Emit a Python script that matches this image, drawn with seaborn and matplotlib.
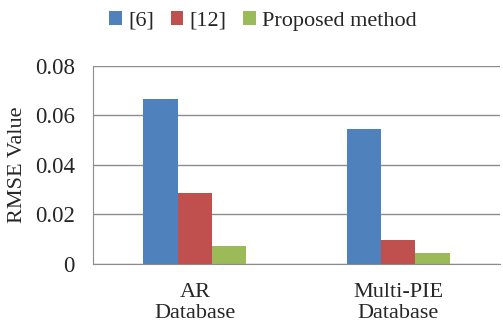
import pandas as pd
import matplotlib
matplotlib.use("Agg")
from matplotlib import pyplot as plt
import seaborn as sns

# data
databases = ["AR\nDatabase", "Multi-PIE\nDatabase"]
methods = ["[6]", "[12]", "Proposed method"]
rmse_6 = [0.0666, 0.0547]
rmse_12 = [0.0287, 0.0097]
rmse_proposed = [0.0071, 0.0043]

colors = ["#4F81BD", "#C0504D", "#9BBB59"]

rows = []
for m, vals in zip(methods, [rmse_6, rmse_12, rmse_proposed]):
    for db, v in zip(databases, vals):
        rows.append({"Database": db, "Method": m, "RMSE": v})
df = pd.DataFrame(rows)

sns.set_style("white")
plt.rcParams['font.family'] = ['Liberation Serif', 'DejaVu Serif']

fig = plt.figure(figsize=(5.03, 3.25), dpi=100)
ax = fig.add_axes([0.185, 0.188, 0.809, 0.609])

sns.barplot(data=df, x="Database", y="RMSE", hue="Method", palette=colors,
            width=0.505, gap=0, saturation=1, ax=ax, edgecolor="none")

ax.set_ylim(0, 0.08)
ax.set_yticks([0, 0.02, 0.04, 0.06, 0.08])
ax.set_yticklabels(["0", "0.02", "0.04", "0.06", "0.08"], fontsize=16.5)
ax.tick_params(axis="y", length=6, color="#888888", width=1, pad=7)
ax.tick_params(axis="x", length=0, labelsize=16, pad=14)
for lbl in ax.get_xticklabels():
    lbl.set_linespacing(1.12)
ax.set_xlabel("")
ax.set_ylabel("RMSE Value", fontsize=16, labelpad=6)
ax.yaxis.grid(True, color="#8c8c8c", linewidth=1)
ax.set_axisbelow(True)
for s in ["top", "right"]:
    ax.spines[s].set_visible(False)
ax.spines["left"].set_color("#8c8c8c")
ax.spines["bottom"].set_color("#8c8c8c")

handles, labels = ax.get_legend_handles_labels()
ax.legend_.remove()
fig.legend(handles, labels, loc="upper center", bbox_to_anchor=(0.523, 1.027),
           ncol=3, frameon=False, fontsize=16, handlelength=0.55, handleheight=0.55,
           handletextpad=0.3, columnspacing=0.75)

fig.savefig("out.png", dpi=100)
